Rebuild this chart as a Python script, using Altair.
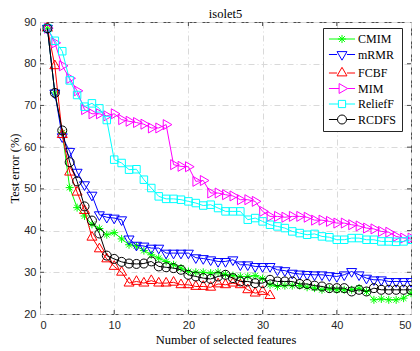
import altair as alt
import pandas as pd

features = list(range(1, 51))
methods = ["CMIM", "mRMR", "FCBF", "MIM", "ReliefF", "RCDFS"]
colors = ["#00ff00", "#0000ff", "#ff0000", "#ff00ff", "#00ffff", "#000000"]

cmim = [88.5, 73, 63.5, 50.3, 45.5, 43.5, 41.5, 40.5, 39, 39.5,
        38, 36.6, 36.3, 35.2, 34.2, 33.4, 32.6, 31.8, 31, 30.2,
        30, 30, 29.8, 30, 29.5, 29.2, 29, 29, 29.2, 28.5,
        27, 26.6, 26.8, 26.8, 26.8, 26.4, 26.2, 25.8, 26, 25.8,
        25.8, 25.8, 26.2, 25.4, 23.4, 23.6, 23.4, 23.4, 23.8, 25]
mrmr = [88.5, 73, 62.5, 59, 54, 51, 48.5, 43.8, 43.2, 43,
        42.6, 38, 36.5, 36.3, 35.8, 35.8, 34.6, 34.6, 34.6, 34.6,
        33.5, 33.3, 33, 32.6, 32.6, 33, 31.8, 31.8, 31.4, 31.4,
        31.4, 30.6, 30.4, 29.8, 29.6, 29.5, 29.4, 29.4, 29.2, 29,
        29.4, 30.2, 29.4, 28.6, 28.2, 28.2, 27.8, 27.8, 27.8, 27.8]
fcbf = [88.5, 79.5, 63, 54, 49.2, 44.8, 38.4, 35.6, 33.2, 31.4,
        30, 27.4, 27.8, 27.4, 28, 27.4, 27.4, 27.6, 27, 27,
        26.6, 26.6, 26.4, 27.2, 27, 27.4, 27, 25.8, 25, 25.4,
        24.4]
mim = [88.5, 85, 79.5, 76.5, 73.5, 69, 68, 68, 67.5, 68,
       66.6, 66.2, 65.9, 65.5, 64.6, 64.6, 65.4, 55.8, 55.4, 55.3,
       51.8, 52, 49, 49, 48.6, 48.3, 47.4, 47.4, 47, 44.6,
       43.4, 43.4, 43.2, 43.4, 43.4, 43.2, 42.5, 42.5, 42.2, 41.8,
       41.8, 41.4, 41.1, 40.6, 40.4, 39.8, 39.6, 38.6, 38.2, 38.2]
relieff = [88.5, 85.5, 83, 76, 72.5, 69.7, 70.5, 69.3, 66.5, 57,
           56.2, 54.6, 54.7, 52.2, 50.2, 48.2, 47.6, 47.6, 47.4, 47,
           46.6, 46, 46.2, 45.4, 44.6, 44.6, 44.6, 42.6, 43, 42.2,
           41.4, 41, 40.6, 39.8, 39.4, 39, 39.2, 38.6, 38.4, 37.8,
           37.8, 38.2, 38.2, 37.8, 37.8, 37.4, 37.4, 37.3, 37.4, 37.8]
rcdfs = [88.5, 73, 64, 56.4, 51.8, 45.8, 42.4, 39.3, 34, 33.2,
         32.5, 32.1, 32, 32.1, 32.6, 31.4, 31.2, 31, 30.6, 29.4,
         29, 28.6, 28.4, 29, 29.4, 28.6, 27.8, 27.8, 27.4, 27.4,
         28.2, 27.8, 27.8, 27.8, 27.2, 27.2, 26.8, 26.6, 26.2, 26.2,
         26.2, 25.4, 25.8, 25.4, 26.2, 25.8, 25.8, 25.8, 25.8, 25.8]

x_ticks = [0, 10, 20, 30, 40, 50]
y_ticks = [20, 30, 40, 50, 60, 70, 80, 90]

series = [cmim, mrmr, fcbf, mim, relieff, rcdfs]

rows = []
for m, vals in zip(methods, series):
    for f, v in zip(features, vals):
        rows.append({"method": m, "n": f, "err": v})
df = pd.DataFrame(rows)

W, H = 371, 292

marker_paths = {
    "CMIM": "M-1,0L1,0M0,-1L0,1M-0.7,-0.7L0.7,0.7M-0.7,0.7L0.7,-0.7",
    "mRMR": "M-1,-0.58L1,-0.58L0,1.15Z",
    "FCBF": "M-1,0.58L1,0.58L0,-1.15Z",
    "MIM": "M-0.58,-1L-0.58,1L1.15,0Z",
    "ReliefF": "M-1,-1L1,-1L1,1L-1,1Z",
    "RCDFS": "M1,0A1,1,0,1,1,-1,0A1,1,0,1,1,1,0Z",
}
marker_sizes = {"CMIM": 64, "mRMR": 100, "FCBF": 100, "MIM": 100, "ReliefF": 56, "RCDFS": 81}

legend_paths = [
    "M-2.9,0L2.9,0M-0.9,0L0.9,0M0,-0.9L0,0.9M-0.64,-0.64L0.64,0.64M-0.64,0.64L0.64,-0.64",
    "M-2.9,0L-1.1,0M1.1,0L2.9,0M-1.1,-0.64L1.1,-0.64L0,1.26Z",
    "M-2.9,0L-1.1,0M1.1,0L2.9,0M-1.1,0.64L1.1,0.64L0,-1.26Z",
    "M-2.9,0L-0.64,0M1.26,0L2.9,0M-0.64,-1.1L-0.64,1.1L1.26,0Z",
    "M-2.9,0L-0.8,0M0.8,0L2.9,0M-0.8,-0.8L0.8,-0.8L0.8,0.8L-0.8,0.8Z",
    "M-2.9,0L-1,0M1,0L2.9,0M1,0A1,1,0,1,1,-1,0A1,1,0,1,1,1,0Z",
]

xscale = alt.Scale(domain=[0, 50], nice=False, zero=False)
yscale = alt.Scale(domain=[20, 90], nice=False, zero=False)

x_enc = alt.X("n:Q", scale=xscale, axis=alt.Axis(
    values=x_ticks, title="Number of selected features", format="d",
    labelPadding=5, titlePadding=3))
y_enc = alt.Y("err:Q", scale=yscale, axis=alt.Axis(
    values=y_ticks, title="Test error (%)", format="d",
    labelPadding=4, titlePadding=2))

layers = []
for m, c in zip(methods, colors):
    sub = alt.Chart(df).transform_filter(alt.datum.method == m)
    layers.append(sub.mark_line(color=c, strokeWidth=1, clip=True).encode(x=x_enc, y=y_enc))
    layers.append(sub.mark_point(shape=marker_paths[m], color=c, size=marker_sizes[m],
                                 filled=False, strokeWidth=1, opacity=1).encode(x=x_enc, y=y_enc))

# inward ticks
xt = pd.DataFrame({"n": x_ticks[1:-1]})
yt = pd.DataFrame({"err": y_ticks[1:-1]})
tick_color = "#4d4d4d"
layers.append(alt.Chart(xt).mark_rule(color=tick_color, strokeWidth=1).encode(
    x=alt.X("n:Q", scale=xscale), y=alt.value(H), y2=alt.value(H - 4)))
layers.append(alt.Chart(xt).mark_rule(color=tick_color, strokeWidth=1).encode(
    x=alt.X("n:Q", scale=xscale), y=alt.value(0), y2=alt.value(4)))
layers.append(alt.Chart(yt).mark_rule(color=tick_color, strokeWidth=1).encode(
    y=alt.Y("err:Q", scale=yscale), x=alt.value(0), x2=alt.value(4)))
layers.append(alt.Chart(yt).mark_rule(color=tick_color, strokeWidth=1).encode(
    y=alt.Y("err:Q", scale=yscale), x=alt.value(W), x2=alt.value(W - 4)))

legend_layer = alt.Chart(df).transform_filter("false").mark_point(
    filled=False, strokeWidth=1, size=81, opacity=1).encode(
    x=x_enc, y=y_enc,
    color=alt.Color("method:N", scale=alt.Scale(domain=methods, range=colors),
                    legend=alt.Legend(title=None, labelFont="Liberation Serif")),
    shape=alt.Shape("method:N", scale=alt.Scale(domain=methods, range=legend_paths),
                    legend=alt.Legend(title=None, labelFont="Liberation Serif")),
)
layers.append(legend_layer)

chart = alt.layer(*layers).properties(
    width=W, height=H,
    title=alt.TitleParams("isolet5", font="Liberation Serif", fontSize=12.5,
                          fontWeight="normal", offset=4, dy=8, anchor="middle", color="#000000"),
    autosize=alt.AutoSizeParams(type="none"),
    padding={"left": 32, "top": 14, "right": 1, "bottom": 31},
).configure(
    font="Liberation Serif"
).configure_view(
    stroke="#4d4d4d", strokeWidth=1
).configure_axis(
    grid=True, gridColor="#d9d9d9", gridDash=[6, 3, 1, 3], gridWidth=1,
    domain=False, ticks=False,
    labelFont="Liberation Sans", labelFontSize=11, labelColor="#262626",
    titleFont="Liberation Serif", titleFontSize=12.5, titleFontWeight="normal",
    titleColor="#000000",
).configure_legend(
    orient="none", legendX=283, legendY=6, padding=5,
    strokeColor="#262626", fillColor="white", cornerRadius=0,
    symbolSize=81, symbolStrokeWidth=1, symbolOffset=8,
    labelFont="Liberation Serif", labelFontSize=12, labelOffset=10,
    rowPadding=2.5,
)

chart.save("out.html", embed_options={"renderer": "svg", "actions": False})
